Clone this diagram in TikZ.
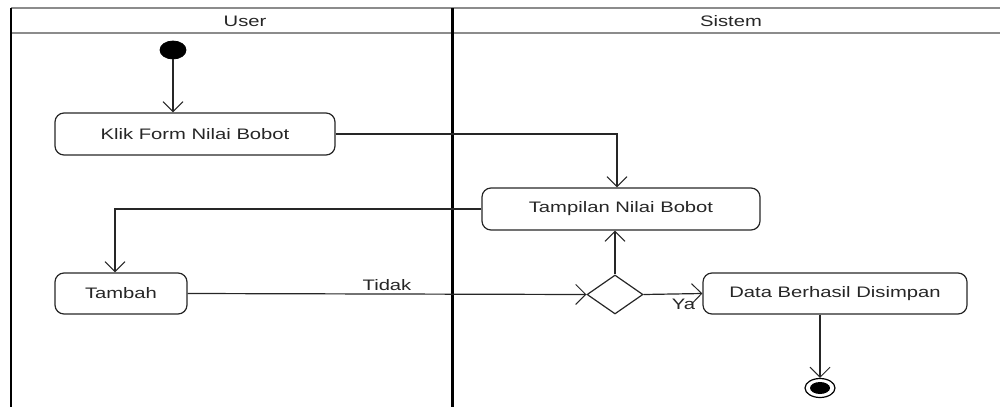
\documentclass[tikz,border=0pt]{standalone}
\usepackage{fontspec}
\newfontfamily\diafont[FakeStretch=1.33]{Liberation Sans}
\usetikzlibrary{shapes.geometric,arrows.meta,calc}
\tikzset{
  act/.style={draw=black!85, line width=0.6pt, rounded corners=4.5pt, inner sep=0pt, font=\diafont\fontsize{7.6pt}{9pt}\selectfont, text=black!85},
  conn/.style={draw=black!85, line width=0.6pt, -{Straight Barb[length=5pt,width=10pt,line width=0.5pt]}},
  plain/.style={draw=black!85, line width=0.6pt},
  lbl/.style={font=\diafont\fontsize{7.6pt}{9pt}\selectfont, text=black!85, inner sep=1pt},
}
\begin{document}
\begin{tikzpicture}[x=0.5pt,y=-0.5pt]
\useasboundingbox (0,0) rectangle (1000,407);
% swimlane frame
\draw[black!45, line width=1.2pt] (11,8) -- (1000,8);
\draw[black!45, line width=1.2pt] (11,33) -- (1000,33);
\draw[black, line width=0.7pt] (11,8) -- (11,407);
\draw[black, line width=1.5pt] (452,8) -- (452,407);
\node[lbl] (huser) at (245,21) {User};
\node[lbl] (hsis) at (731,21) {Sistem};
% nodes
\node[ellipse, fill=black, draw=black, minimum width=13pt, minimum height=9pt, inner sep=0pt] (init) at (173,50) {};
\node[act, minimum width=140pt, minimum height=21pt] (klik) at (195,134) {Klik Form Nilai Bobot};
\node[act, minimum width=139pt, minimum height=21pt] (tampil) at (621,209) {Tampilan Nilai Bobot};
\node[act, minimum width=66pt, minimum height=20.5pt] (tambah) at (121,293.5) {Tambah};
\node[diamond, draw=black!85, line width=0.6pt, minimum width=28pt, minimum height=19.5pt, inner sep=0pt] (dec) at (615,294.5) {};
\node[act, minimum width=132pt, minimum height=20.5pt] (data) at (835,293.5) {Data Berhasil Disimpan};
\node[ellipse, draw=black, line width=0.6pt, fill=white, minimum width=15pt, minimum height=9.5pt, inner sep=0pt] (final) at (820,388) {};
\node[ellipse, fill=black, minimum width=10pt, minimum height=6pt, inner sep=0pt] (finalin) at (final.center) {};
% connectors
\draw[conn] (init) -- (klik.north -| init);
\coordinate (c1) at ($(dec.north)+(2,0)$);
\draw[conn] (klik.east) -| (c1 |- tampil.north);
\coordinate (c2) at (115,0);
\draw[conn] (tampil.west) -| (c2 |- tambah.north);
\draw[conn] (tambah.east) -- node[lbl, above, pos=0.5, yshift=0.5pt] (tidak) {Tidak} (dec.west);
\draw[conn] (dec.north) -- (dec.north |- tampil.south);
\draw[conn] (dec.east) -- node[lbl, below, pos=0.68, yshift=-1.5pt] (ya) {Ya} (data.west);
\draw[conn] (final |- data.south) -- (final.north);
\end{tikzpicture}
\end{document}
